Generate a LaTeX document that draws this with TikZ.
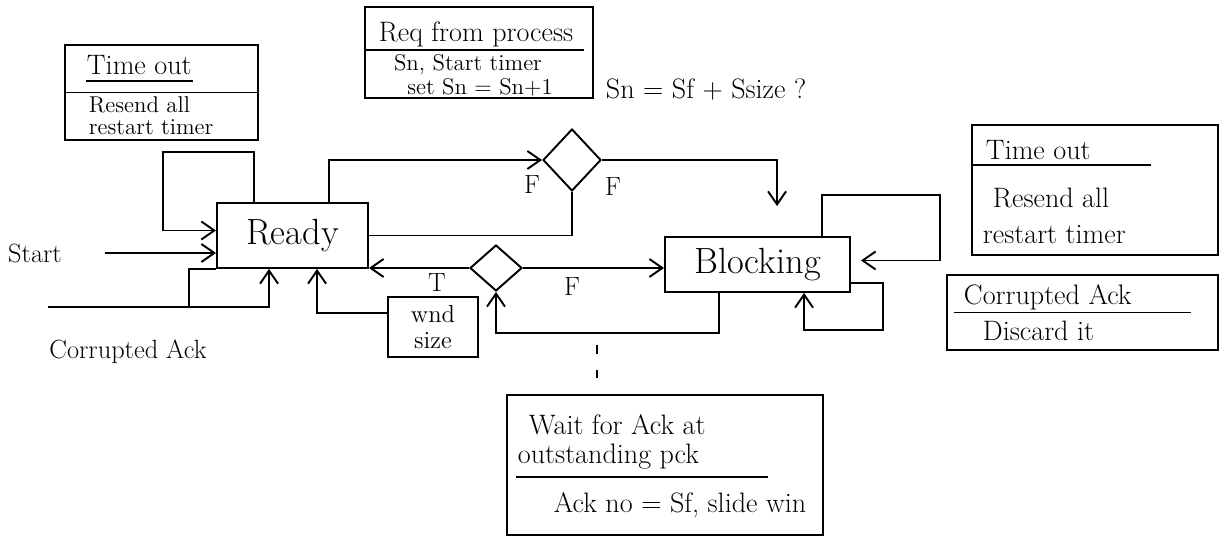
\documentclass[tikz,border=0pt]{standalone}
\usepackage{tikz}
\usetikzlibrary{shapes.geometric,arrows.meta,calc}

\begin{document}
\begin{tikzpicture}[x=0.02cm, y=-0.02cm, line width=1.1pt,
  state/.style={draw, rectangle, inner sep=0pt, font=\huge},
  notebox/.style={draw, rectangle, inner sep=0pt},
  notetext/.style={anchor=west, inner sep=0pt, font=\fontsize{16}{19}\selectfont},
  smalltext/.style={notetext, font=\fontsize{13}{15}\selectfont},
  choice/.style={draw, diamond, inner sep=0pt},
  flow/.style={-{Straight Barb[length=2.6mm,width=3.6mm]}},
  lbl/.style={inner sep=1pt, font=\fontsize{15}{18}\selectfont},
  note/.style={dash pattern=on 5pt off 9pt}]
\useasboundingbox (0,0) rectangle (1231,544);
\node[state, minimum width=3.02cm, minimum height=1.3cm] (ready) at (292.5,235.5) {Ready};
\node[state, minimum width=3.7cm, minimum height=1.1cm] (blocking) at (757.5,264.5) {Blocking};
\node[choice, minimum width=1.16cm, minimum height=1.24cm] (dia1) at (572,160) {};
\node[choice, minimum width=1.04cm, minimum height=0.92cm] (dia2) at (496,268) {};
\node[notebox, align=center, minimum width=1.8cm, minimum height=1.2cm, font=\fontsize{14}{15}\selectfont] (wnd) at (433,327) {wnd\\size};

\node[notebox, minimum width=3.86cm, minimum height=1.9cm] (tlbox) at (161.5,92.5) {};
\node[notetext] (tlhead) at (86,65) {Time out};
\draw ([yshift=-3pt]tlhead.south west) -- ([yshift=-3pt]tlhead.south east);
\draw (tlbox.west) -- (tlbox.east);
\node[smalltext] (tlact1) at (88,105) {Resend all};
\node[smalltext] (tlact2) at (88,127) {restart timer};

\node[notebox, minimum width=4.56cm, minimum height=1.82cm] (tmbox) at (479,52.5) {};
\node[notetext, anchor=center] (tmhead) at (476,34) {Req from process};
\draw ($(tmbox.west)+(0,-2.5)$) -- ($(tmbox.east)+(-10,-2.5)$);
\node[smalltext, anchor=center] (tmact1) at (468,65) {Sn, Start timer};
\node[smalltext, anchor=center] (tmact2) at (480,87) {set Sn = Sn+1};
\node[notetext] (cond) at (605,90) {Sn = Sf + Ssize ?};

\node[notebox, minimum width=4.92cm, minimum height=2.6cm] (rtbox) at (1095,190) {};
\node[notetext] (rthead) at (985,150) {Time out};
\draw ($(rtbox.west)+(0,-25)$) -- ($(rtbox.east)+(-68,-25)$);
\node[notetext] (rtact1) at (992,198) {Resend all};
\node[notetext] (rtact2) at (982,235) {restart timer};

\node[notebox, minimum width=5.42cm, minimum height=1.5cm] (rbbox) at (1082.5,312.5) {};
\node[notetext] (rbhead) at (963,297) {Corrupted Ack};
\draw ($(rbbox.west)+(8,0)$) -- ($(rbbox.east)+(-28,0)$);
\node[notetext] (rbact) at (982,331) {Discard it};

\node[notebox, minimum width=6.32cm, minimum height=2.8cm] (btbox) at (665,465) {};
\node[notetext] (bthead1) at (528,425) {Wait for Ack at};
\node[notetext] (bthead2) at (517,457) {outstanding pck};
\draw ($(btbox.west)+(10,12)$) -- ($(btbox.east)+(-56,12)$);
\node[notetext] (btact) at (553,505) {Ack no = Sf, slide win};

\node[lbl] (start) at (35,253) {Start};
\node[lbl] (corr) at (128,352) {Corrupted Ack};
\node[lbl] (f1) at (532,185) {F};
\node[lbl] (f2) at (613,187) {F};
\node[lbl] (t1) at (437,283) {T};
\node[lbl] (f3) at (572,287) {F};
\coordinate (corrin) at (48,307);
\coordinate (ackend) at (597,345);

\draw[flow] ($(ready.north west)+(38,0)$) |- (163,152) |- ($(ready.west)+(0,-5)$);
\draw[flow] ($(start.east)+(40,0)$) -- (start -| ready.west);
\draw[flow] (corrin) -| ($(ready.south west)+(53,0)$);
\draw (ready.south west) -- ++(-27,0) -- ++(0,39);
\draw[flow] ($(wnd.west)+(0,-14)$) -| ($(ready.south west)+(101,0)$);
\draw[flow] ($(ready.north west)+(113,0)$) |- (dia1.west);
\draw (dia1.south) |- (ready.east);
\draw[flow] (dia1.east) -| ($(blocking.north west)+(113,-30)$);
\draw[flow] (dia2.west) -- (dia2.west -| ready.east);
\draw[flow] (dia2.east) -- (dia2.east -| blocking.west);
\draw[flow] ($(blocking.south west)+(55,0)$) |- ($(dia2.south)+(0,41)$) -- (dia2.south);
\draw[note] (ackend) -- (ackend |- btbox.north);
\draw[flow] ($(blocking.north west)+(158,0)$) |- (940,195) |- ($(blocking.east)+(10,-4)$);
\draw[flow] ($(blocking.east)+(0,18.5)$) -| (883,330) -| ($(blocking.south west)+(140,0)$);
\end{tikzpicture}
\end{document}
